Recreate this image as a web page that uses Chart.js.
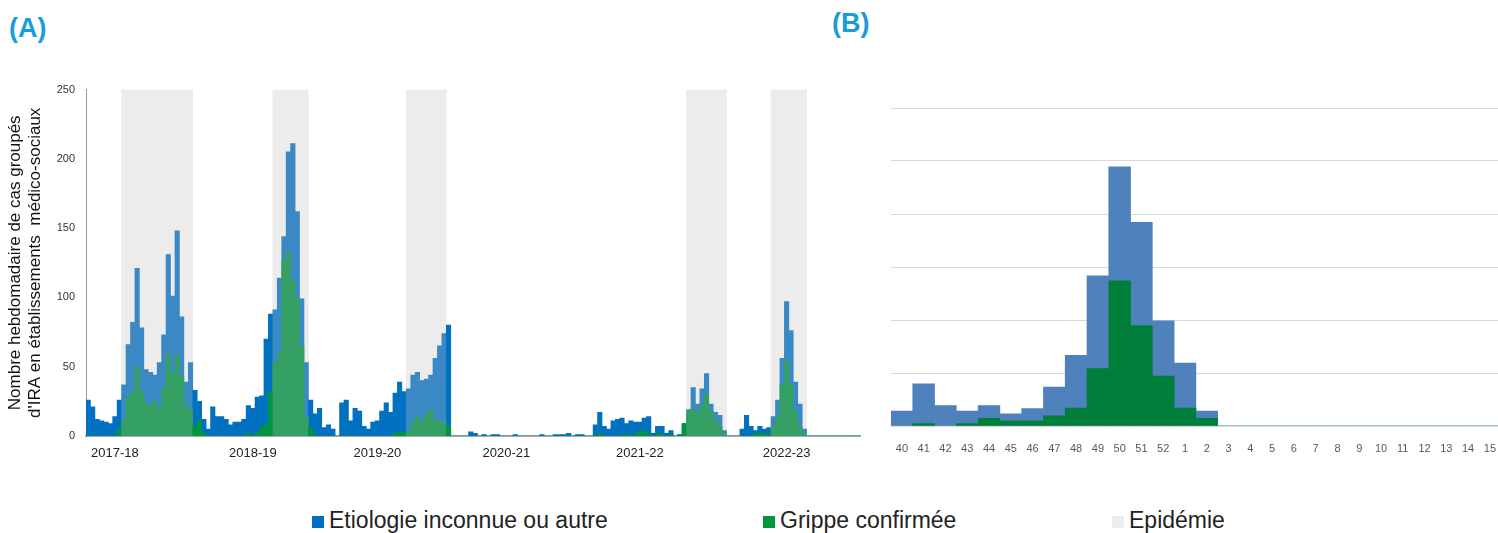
<!DOCTYPE html>
<html>
<head>
<meta charset="utf-8">
<script src="https://cdn.jsdelivr.net/npm/chart.js@4/dist/chart.umd.min.js"></script>
<style>
body { margin:0; width:1498px; height:533px; background:#fff; font-family:"Liberation Sans", Arial, sans-serif; position:relative; overflow:hidden; }
.tag { position:absolute; color:#1a9cd8; font-weight:bold; font-size:27px; }
#chartA { position:absolute; left:0; top:80px; }
#chartB { position:absolute; left:880px; top:90px; }
.leg { position:absolute; top:507px; font-size:23px; color:#222; }
.leg span { display:inline-block; width:12px; height:12px; margin-right:5px; }
</style>
</head>
<body>
<div class="tag" style="left:9px;top:13px">(A)</div>
<div class="tag" style="left:832px;top:8px">(B)</div>
<canvas id="chartA" width="880" height="390"></canvas>
<canvas id="chartB" width="624" height="380"></canvas>
<div class="leg" style="left:312px"><span style="background:#0070c0"></span>Etiologie inconnue ou autre</div>
<div class="leg" style="left:763px"><span style="background:#00953f"></span>Grippe confirmée</div>
<div class="leg" style="left:1112px"><span style="background:#ececec"></span>Epidémie</div>
<script>
// Panel A : weekly counts per season (weeks 40 -> 15 approx)
const totalSlots = 174;
const seasonNames = ['2017-18', '2018-19', '2019-20', '2020-21', '2021-22', '2022-23'];
const seasonLabelSlot = [6, 37, 65, 94, 124, 157];
const seasonStart = [0, 28, 57, 86, 114, 147];

const blue1718 = [26,21,12,11,10,9,14,26, 37,66,82,121,78,48,46,44,53,73,131,101,148,86,39,53, 33,25,12,5];
const green1718 = [0,0,0,0,0,0,0,5, 12,28,32,50,32,24,22,25,20,35,59,46,58,43,22,19, 7,11,2,0];
const blue1819 = [21,14,14,12,8,10,10,12,22,20,28,29,70,88, 91,114,144,205,211,162,99,53, 26,16,20,6,8,5];
const green1819 = [0,0,0,0,0,0,0,0,2,0,2,6,8,32, 53,60,127,133,112,100,65,14, 6,1,0,0,0,0];
const blue1920 = [24,26,11,20,18,7,5,10,11,18,24,17,31,39,32, 34,44,46,40,41,44,56,65,74,80];
const green1920 = [0,0,0,0,0,0,0,0,0,0,0,0,2,3,3, 3,10,14,10,16,19,12,11,10,7];
const blue2021 = [3,2,0,1,0,1,1,0,0,0,1,0,0,0,0,0,1,0,0,1,1,1,2,0,1,1];
const green2021 = [];
const blue2122 = [8,17,7,5,11,12,13,9,11,10,10,13,14,2,7,7,2,4,0,1, 9,17,35,23,34,45,23,17,15,4];
const green2122 = [0,2,0,0,0,0,1,1,0,1,3,4,1,0,2,1,0,1,0,1, 9,19,19,17,23,30,18,12,7,1];
const blue2223 = [5,15,7,4,7,5,6,14,26,56,97,76,39,23,5];
const green2223 = [0,0,0,2,2,2,1,7,14,37,55,37,18,7,1];
const epidemicRanges = [[8,23],[42,49],[72,80],[135,143],[154,161]];

const blueSeasons = [blue1718, blue1819, blue1920, blue2021, blue2122, blue2223];
const greenSeasons = [green1718, green1819, green1920, green2021, green2122, green2223];

const blueA = new Array(totalSlots).fill(0);
const greenA = new Array(totalSlots).fill(0);
const epiA = new Array(totalSlots).fill(0);
const labelsA = new Array(totalSlots).fill('');
seasonStart.forEach((s, i) => {
    blueSeasons[i].forEach((v, j) => blueA[s + j] = v);
    greenSeasons[i].forEach((v, j) => greenA[s + j] = v);
    labelsA[seasonLabelSlot[i]] = seasonNames[i];
});
epidemicRanges.forEach(r => { for (let k = r[0]; k <= r[1]; k++) epiA[k] = 250; });

const blueCol = epiA.map(e => e ? '#3a89c5' : '#0070c0');
const greenCol = epiA.map(e => e ? '#35a064' : '#00953f');

new Chart(document.getElementById('chartA'), {
    type: 'bar',
    data: {
        labels: labelsA,
        datasets: [
            { data: greenA, backgroundColor: greenCol, order: 1 },
            { data: blueA, backgroundColor: blueCol, order: 2 },
            { data: epiA, backgroundColor: '#ececec', order: 3 }
        ]
    },
    options: {
        responsive: false, animation: false,
        layout: { padding: { top: 9, right: 20, left: 5, bottom: 0 } },
        plugins: { legend: { display: false }, tooltip: { enabled: false } },
        datasets: { bar: { grouped: false, barPercentage: 1, categoryPercentage: 1, borderWidth: 0 } },
        scales: {
            x: {
                grid: { display: false },
                border: { color: '#aaa', width: 2 },
                ticks: { autoSkip: false, maxRotation: 0, color: '#222', font: { family: 'Liberation Sans', size: 13 }, padding: 2 },
                afterFit: s => { s.height = 34; }
            },
            y: {
                min: 0, max: 250,
                grid: { display: false, drawTicks: true },
                border: { color: '#999' },
                ticks: { stepSize: 50, color: '#333', font: { family: 'Liberation Sans', size: 11 } },
                title: { display: true, text: ['Nombre hebdomadaire de cas groupés', "d'IRA en établissements  médico-sociaux"], color: '#111', font: { family: 'Liberation Sans', size: 17 }, padding: 0 },
                afterFit: s => { s.width = 81; }
            }
        }
    }
});

// Panel B : season 2022-23 by week
const weeksB = ['40','41','42','43','44','45','46','47','48','49','50','51','52','1','2','3','4','5','6','7','8','9','10','11','12','13','14','15'];
const blueB = [5.6,15.9,7.7,5.6,7.7,4.6,6.6,14.7,26.7,56.7,97.8,76.9,39.7,23.7,5.6,0,0,0,0,0,0,0,0,0,0,0,0,0];
const greenB = [0,0.9,0,0.9,2.9,1.9,1.9,3.8,6.8,21.7,54.8,37.9,18.8,6.8,2.9,0,0,0,0,0,0,0,0,0,0,0,0,0];

new Chart(document.getElementById('chartB'), {
    type: 'bar',
    data: {
        labels: weeksB,
        datasets: [
            { data: greenB, backgroundColor: '#007f3a', order: 1 },
            { data: blueB, backgroundColor: '#4f81bd', order: 2 }
        ]
    },
    options: {
        responsive: false, animation: false,
        layout: { padding: { top: 18, right: 0, left: 0, bottom: 0 } },
        plugins: { legend: { display: false }, tooltip: { enabled: false } },
        datasets: { bar: { grouped: false, barPercentage: 1, categoryPercentage: 1, borderWidth: 0 } },
        scales: {
            x: {
                grid: { display: false },
                border: { color: '#d9d9d9' },
                ticks: { autoSkip: false, maxRotation: 0, color: '#595959', font: { family: 'Liberation Sans', size: 11 }, padding: 8 },
                afterFit: s => { s.height = 44; }
            },
            y: {
                min: 0, max: 120,
                grid: { color: '#d9d9d9', drawTicks: false },
                border: { display: false },
                ticks: { stepSize: 20, display: false },
                afterFit: s => { s.width = 11; }
            }
        }
    }
});
</script>
</body>
</html>
